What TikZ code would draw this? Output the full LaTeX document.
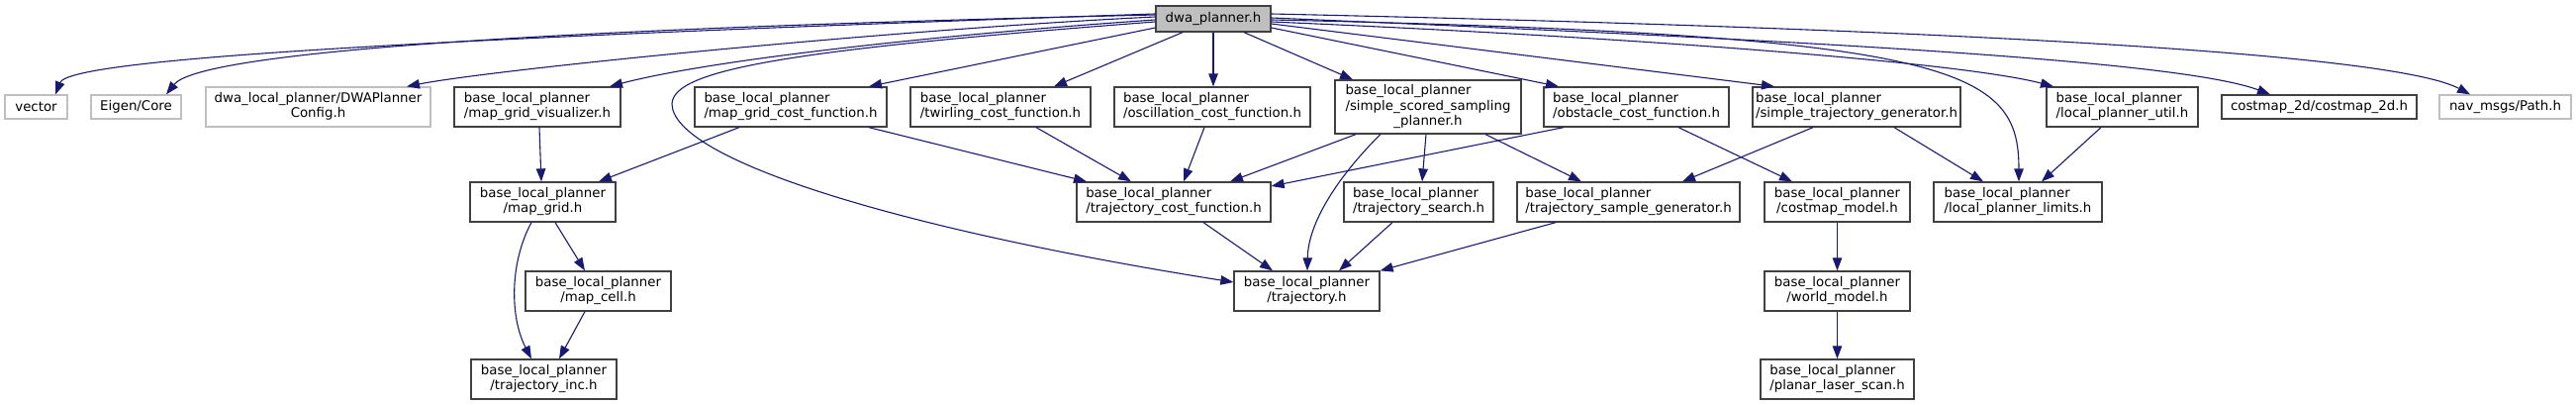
\documentclass[tikz,border=0pt]{standalone}
\usepackage{fontspec}
\setmainfont{DejaVu Sans}
\usetikzlibrary{arrows.meta}
\definecolor{edgeblue}{HTML}{191970}
\definecolor{bordergrey}{HTML}{404040}
\definecolor{extgrey}{HTML}{BFBFBF}
\definecolor{rootfill}{HTML}{BFBFBF}
\newcommand\tl[2]{\begin{tabular}{@{}l@{}}#1\\\multicolumn{1}{@{}c@{}}{#2}\end{tabular}}
\newcommand\thl[3]{\begin{tabular}{@{}l@{}}#1\\#2\\\multicolumn{1}{@{}c@{}}{#3}\end{tabular}}
\begin{document}
\begin{tikzpicture}[x={(1pt,0)},y={(0,-1pt)},
  hdr/.style={draw=bordergrey,line width=1.3pt,fill=white,inner sep=0pt,align=center,
    font=\fontsize{13.33}{15.4}\selectfont},
  ext/.style={hdr,draw=extgrey},
  root/.style={hdr,fill=rootfill},
  dep/.style={draw=edgeblue,line width=1.1pt,-{Triangle[length=13pt,width=9.5pt]}}]
\useasboundingbox (0,0) rectangle (2603,409);
% nodes
\node[ext,minimum width=63pt,minimum height=24pt] (vector) at (36.5,108) {vector};
\node[ext,minimum width=91pt,minimum height=24pt] (eigen) at (137.5,108) {Eigen/Core};
\node[ext,minimum width=227pt,minimum height=40pt] (dwacfg) at (321.5,108) {\tl{dwa\_local\_planner/DWAPlanner}{Config.h}};
\node[hdr,minimum width=168pt,minimum height=40pt] (mgv) at (543,108) {\tl{base\_local\_planner}{/map\_grid\_visualizer.h}};
\node[root,minimum width=116pt,minimum height=26pt] (dwa) at (1226,19) {dwa\_planner.h};
\node[hdr,minimum width=194pt,minimum height=40pt] (mgcf) at (799,108) {\tl{base\_local\_planner}{/map\_grid\_cost\_function.h}};
\node[hdr,minimum width=182pt,minimum height=40pt] (twirl) at (1011,108) {\tl{base\_local\_planner}{/twirling\_cost\_function.h}};
\node[hdr,minimum width=198pt,minimum height=40pt] (osc) at (1225,108) {\tl{base\_local\_planner}{/oscillation\_cost\_function.h}};
\node[hdr,minimum width=188pt,minimum height=54pt] (ssp) at (1443,108) {\thl{base\_local\_planner}{/simple\_scored\_sampling}{\_planner.h}};
\node[hdr,minimum width=187pt,minimum height=40pt] (obst) at (1653.5,108) {\tl{base\_local\_planner}{/obstacle\_cost\_function.h}};
\node[hdr,minimum width=210pt,minimum height=40pt] (stg) at (1876,108) {\tl{base\_local\_planner}{/simple\_trajectory\_generator.h}};
\node[hdr,minimum width=153pt,minimum height=40pt] (util) at (2144.5,108) {\tl{base\_local\_planner}{/local\_planner\_util.h}};
\node[hdr,minimum width=197pt,minimum height=24pt] (cm2d) at (2343.5,108) {costmap\_2d/costmap\_2d.h};
\node[ext,minimum width=133pt,minimum height=24pt] (nav) at (2531.5,108) {nav\_msgs/Path.h};
\node[hdr,minimum width=147pt,minimum height=40pt] (mg) at (548.5,204) {\tl{base\_local\_planner}{/map\_grid.h}};
\node[hdr,minimum width=196pt,minimum height=40pt] (tcf) at (1186,204) {\tl{base\_local\_planner}{/trajectory\_cost\_function.h}};
\node[hdr,minimum width=151pt,minimum height=40pt] (tsearch) at (1433.5,204) {\tl{base\_local\_planner}{/trajectory\_search.h}};
\node[hdr,minimum width=225pt,minimum height=40pt] (tsg) at (1645.5,204) {\tl{base\_local\_planner}{/trajectory\_sample\_generator.h}};
\node[hdr,minimum width=147pt,minimum height=40pt] (cmm) at (1856.5,204) {\tl{base\_local\_planner}{/costmap\_model.h}};
\node[hdr,minimum width=170pt,minimum height=40pt] (lpl) at (2039,204) {\tl{base\_local\_planner}{/local\_planner\_limits.h}};
\node[hdr,minimum width=147pt,minimum height=40pt] (mcell) at (604.5,294) {\tl{base\_local\_planner}{/map\_cell.h}};
\node[hdr,minimum width=147pt,minimum height=40pt] (traj) at (1320.5,294) {\tl{base\_local\_planner}{/trajectory.h}};
\node[hdr,minimum width=147pt,minimum height=40pt] (world) at (1856.5,294) {\tl{base\_local\_planner}{/world\_model.h}};
\node[hdr,minimum width=147pt,minimum height=40pt] (tinc) at (549.5,383) {\tl{base\_local\_planner}{/trajectory\_inc.h}};
\node[hdr,minimum width=155pt,minimum height=40pt] (planar) at (1856.5,383) {\tl{base\_local\_planner}{/planar\_laser\_scan.h}};
% edges from dwa_planner.h
\draw[dep] ([yshift=5pt]dwa.west) .. controls (400,40) and (70,60) .. ([xshift=19.5pt]vector.north);
\draw[dep] ([yshift=4pt]dwa.west) .. controls (500,30) and (200,55) .. ([xshift=30.5pt]eigen.north);
\draw[dep] ([yshift=2pt]dwa.west) .. controls (900,30) and (500,70) .. ([xshift=89.5pt]dwacfg.north);
\draw[dep] ([yshift=-1pt]dwa.west) .. controls (950,35) and (720,60) .. ([xshift=73pt]mgv.north);
\draw[dep] ([yshift=-3pt]dwa.west) .. controls (800,50) and (680,70) .. (679,105) .. controls (680,160) and (900,230) .. ([yshift=9pt]traj.west);
\draw[dep] ([yshift=-9pt]dwa.west) -- ([xshift=79pt]mgcf.north);
\draw[dep] ([xshift=-31pt]dwa.south) -- ([xshift=54pt]twirl.north);
\draw[dep] (dwa.south) -- (osc.north -| dwa.south);
\draw[dep] ([xshift=31pt]dwa.south) -- ([xshift=-76pt]ssp.north);
\draw[dep] ([yshift=-9pt]dwa.east) -- ([xshift=-78.5pt]obst.north);
\draw[dep] ([yshift=-5pt]dwa.east) -- ([xshift=-83pt]stg.north);
\draw[dep] ([yshift=-3pt]dwa.east) .. controls (1700,40) and (1990,65) .. ([xshift=-69.5pt]util.north);
\draw[dep] ([yshift=-1pt]dwa.east) .. controls (1980,35) and (2040,70) .. ([xshift=1pt]lpl.north);
\draw[dep] ([yshift=1pt]dwa.east) .. controls (1800,40) and (2200,60) .. ([xshift=-49.5pt]cm2d.north);
\draw[dep] ([yshift=5pt]dwa.east) .. controls (2000,30) and (2420,55) .. ([xshift=-35.5pt]nav.north);
% second level
\draw[dep] ([xshift=2pt]mgv.south) -- ([xshift=-1.5pt]mg.north);
\draw[dep] ([xshift=-52pt]mgcf.south) -- ([xshift=56.5pt]mg.north);
\draw[dep] ([xshift=79pt]mgcf.south) -- ([xshift=-88pt]tcf.north);
\draw[dep] ([xshift=36pt]twirl.south) -- ([xshift=-43pt]tcf.north);
\draw[dep] ([xshift=-8pt]osc.south) -- ([xshift=10pt]tcf.north);
\draw[dep] ([xshift=-73pt]ssp.south) -- ([xshift=57pt]tcf.north);
\draw[dep] ([xshift=-73.5pt]obst.south) -- ([yshift=16pt]tcf.east);
\draw[dep] ([xshift=-2pt]ssp.south) -- ([xshift=3.5pt]tsearch.north);
\draw[dep] ([xshift=58pt]ssp.south) -- ([xshift=-47.5pt]tsg.north);
\draw[dep] ([xshift=-48pt]ssp.south) .. controls (1360,170) and (1322,220) .. ([xshift=0.5pt]traj.north);
\draw[dep] ([xshift=42.5pt]obst.south) -- ([xshift=-45.5pt]cmm.north);
\draw[dep] ([xshift=-44pt]stg.south) -- ([xshift=54.5pt]tsg.north);
\draw[dep] ([xshift=38pt]stg.south) -- ([xshift=-35pt]lpl.north);
\draw[dep] ([xshift=-21.5pt]util.south) -- ([xshift=24pt]lpl.north);
\draw[dep] (cmm.south) -- (world.north);
\draw[dep] (world.south) -- (planar.north);
\draw[dep] ([xshift=12.5pt]mg.south) -- ([xshift=-13.5pt]mcell.north);
\draw[dep] ([xshift=-11.5pt]mg.south) .. controls (515,265) and (515,320) .. ([xshift=-12.5pt]tinc.north);
\draw[dep] ([xshift=-13.5pt]mcell.south) -- ([xshift=15.5pt]tinc.north);
\draw[dep] ([xshift=30pt]tcf.south) -- ([xshift=-34.5pt]traj.north);
\draw[dep] ([xshift=-26.5pt]tsearch.south) -- ([xshift=32.5pt]traj.north);
\draw[dep] ([xshift=-73.5pt]tsg.south) -- (traj.north east);
\end{tikzpicture}
\end{document}
